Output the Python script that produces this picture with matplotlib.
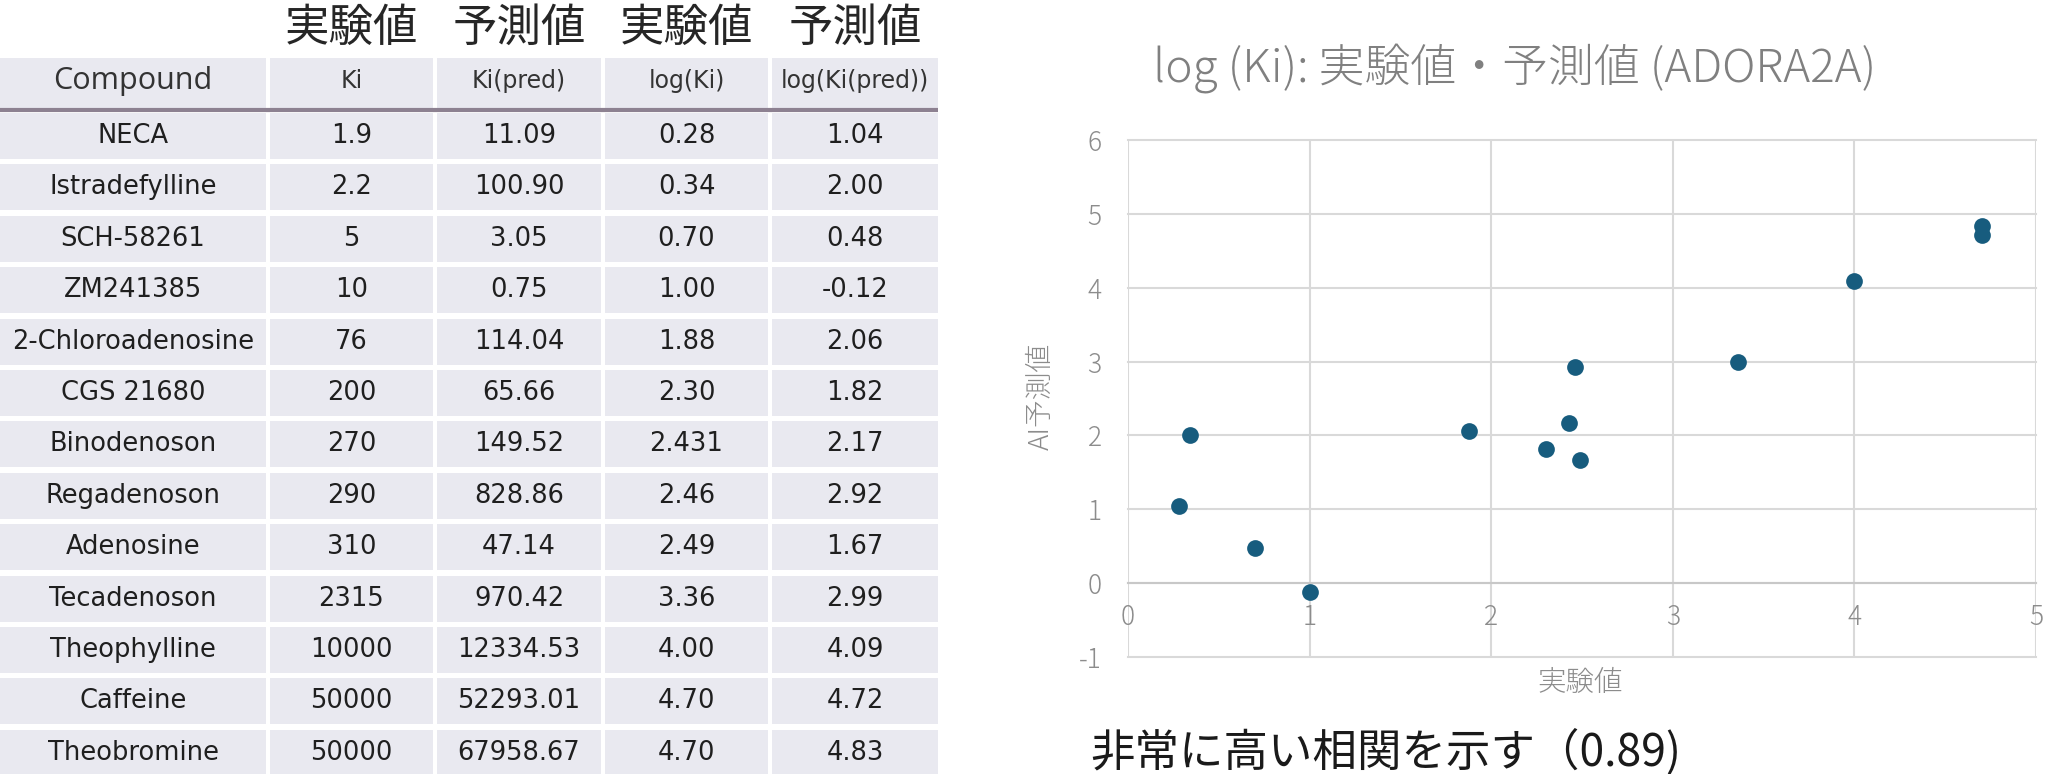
import matplotlib
matplotlib.use('Agg')
import matplotlib.pyplot as plt
from matplotlib.patches import Rectangle

plt.rcParams['font.family'] = ['Noto Sans CJK JP', 'DejaVu Sans']
plt.rcParams['axes.unicode_minus'] = False

# table data (as printed in the table)
compounds = ['NECA', 'Istradefylline', 'SCH-58261', 'ZM241385', '2-Chloroadenosine',
             'CGS 21680', 'Binodenoson', 'Regadenoson', 'Adenosine', 'Tecadenoson',
             'Theophylline', 'Caffeine', 'Theobromine']
ki = ['1.9', '2.2', '5', '10', '76', '200', '270', '290', '310', '2315',
      '10000', '50000', '50000']
ki_pred = ['11.09', '100.90', '3.05', '0.75', '114.04', '65.66', '149.52', '828.86',
           '47.14', '970.42', '12334.53', '52293.01', '67958.67']
log_ki = ['0.28', '0.34', '0.70', '1.00', '1.88', '2.30', '2.431', '2.46', '2.49',
          '3.36', '4.00', '4.70', '4.70']
log_pred = ['1.04', '2.00', '0.48', '-0.12', '2.06', '1.82', '2.17', '2.92', '1.67',
            '2.99', '4.09', '4.72', '4.83']
headers = ['Compound', 'Ki', 'Ki(pred)', 'log(Ki)', 'log(Ki(pred))']
groups = ['', '実験値', '予測値', '実験値', '予測値']

x_ticks = [0, 1, 2, 3, 4, 5]
y_ticks = [-1, 0, 1, 2, 3, 4, 5, 6]

W, H = 2048, 774
fig = plt.figure(figsize=(W / 100, H / 100), dpi=100)

# ---- table, drawn in pixel coords ----
tab = fig.add_axes([0, 0, 1, 1])
tab.set_xlim(0, W)
tab.set_ylim(H, 0)
tab.axis('off')

col_x = [(0, 266), (270, 433), (437, 601), (605, 768), (772, 938)]
cell_bg = '#e9e9f0'
narrow = ['Liberation Sans Narrow', 'DejaVu Sans Condensed', 'DejaVu Sans']

for (x0, x1), g in zip(col_x, groups):
    if g:
        tab.text((x0 + x1) / 2, 28, g, ha='center', va='center', fontsize=32,
                 color='#262626')

# header row
for (x0, x1), h in zip(col_x, headers):
    tab.add_patch(Rectangle((x0, 58), x1 - x0, 50, color=cell_bg, lw=0))
    if h == 'Compound':
        tab.text((x0 + x1) / 2, 81, h, ha='center', va='center', fontsize=22,
                 family=['Open Sans', 'DejaVu Sans'], color='#333333')
    else:
        tab.text((x0 + x1) / 2, 81, h, ha='center', va='center', fontsize=17,
                 family=narrow, color='#333333')
tab.plot([0, 938], [110, 110], color='#8d8191', lw=3, solid_capstyle='butt')

pitch = 51.4
for i, row in enumerate(zip(compounds, ki, ki_pred, log_ki, log_pred)):
    top = 113 + i * pitch
    for (x0, x1), val in zip(col_x, row):
        tab.add_patch(Rectangle((x0, top), x1 - x0, 46, color=cell_bg, lw=0))
        tab.text((x0 + x1) / 2, top + 23, val, ha='center', va='center',
                 fontsize=18.5, family=narrow, color='#1f1f1f')

# ---- scatter chart ----
ax = fig.add_axes([1128 / W, 1 - 657 / H, (2036 - 1128) / W, (657 - 140) / H])
xs = [float(v) for v in log_ki]
ys = [float(v) for v in log_pred]
ax.scatter(xs, ys, s=145, color='#175c7e', zorder=3, linewidths=0)

ax.set_xlim(0, 5)
ax.set_ylim(-1, 6)
ax.set_xticks(x_ticks)
ax.set_yticks(y_ticks)
ax.grid(True, color='#d9d9d9', lw=1.5)
for ln in ax.get_xgridlines() + ax.get_ygridlines():
    ln.set_clip_on(False)
for s in ['top', 'right', 'left']:
    ax.spines[s].set_visible(False)
ax.spines['bottom'].set_position(('data', 0))
ax.spines['bottom'].set_color('#c8c8c8')
ax.spines['bottom'].set_linewidth(1.5)
ax.tick_params(axis='both', length=0, labelsize=19, labelcolor='#8c8c8c')
ax.tick_params(axis='x', pad=14)
ax.tick_params(axis='y', pad=19)
for lab in ax.get_xticklabels() + ax.get_yticklabels():
    lab.set_fontweight('light')

fig.text(1515 / W, 1 - 68 / H, 'log (Ki): 実験値・予測値 (ADORA2A)', ha='center',
         va='center', fontsize=33, color='#808080', fontweight='light')
fig.text(1580 / W, 1 - 683 / H, '実験値', ha='center', va='center', fontsize=20.5,
         color='#8c8c8c', fontweight='light')
fig.text(1041 / W, 1 - 396 / H, 'AI予測値', ha='center', va='center', fontsize=20,
         color='#8c8c8c', rotation=90, fontweight='light')

fig.text(1090 / W, 1 - 752 / H, '非常に高い相関を示す（0.89)', ha='left', va='center',
         fontsize=32, color='#1a1a1a')

fig.savefig('out.png', dpi=100, facecolor='white')
